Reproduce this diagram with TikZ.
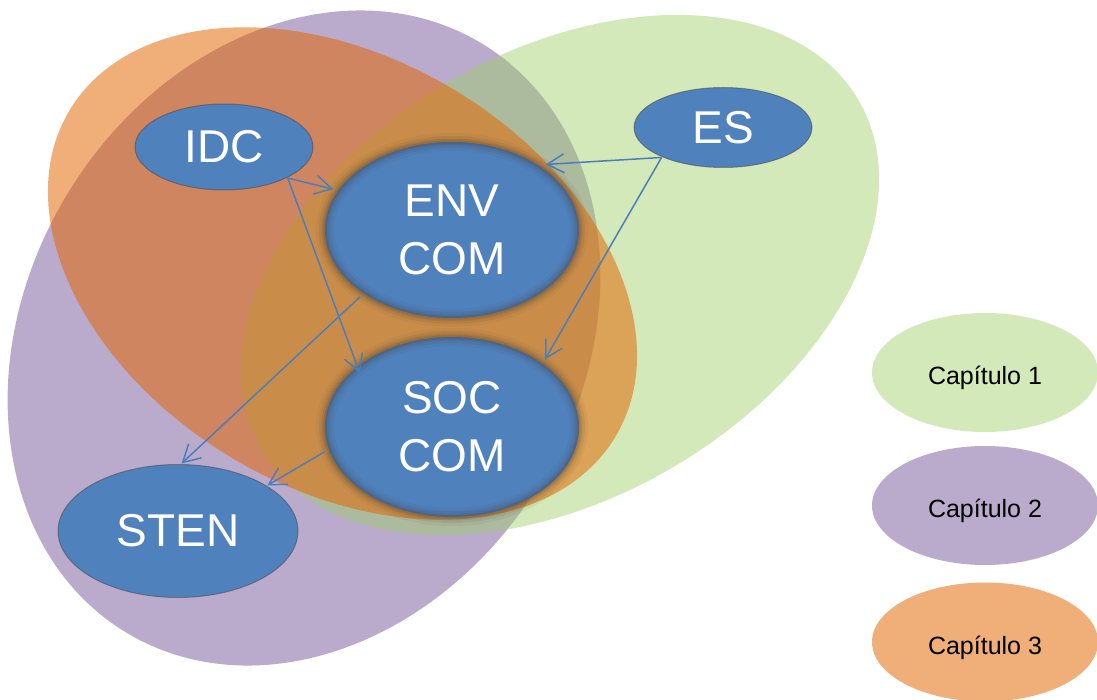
\documentclass[tikz,border=0pt]{standalone}
\usepackage{fontspec}
\setmainfont{Liberation Sans}
\usetikzlibrary{shapes.geometric,arrows.meta}
\definecolor{nodeblue}{RGB}{79,129,189}
\definecolor{arrowblue}{RGB}{74,126,187}
\definecolor{cpurple}{RGB}{128,100,162}
\definecolor{cgreen}{RGB}{155,207,98}
\definecolor{corange}{RGB}{227,102,0}
\definecolor{rimdark}{RGB}{70,58,48}
\begin{document}
\begin{tikzpicture}[x=1pt,y=-1pt,
  chap1/.style={fill=cgreen,fill opacity=0.44},
  chap2/.style={fill=cpurple,fill opacity=0.54},
  chap3/.style={fill=corange,fill opacity=0.53},
  concept/.style={ellipse,fill=nodeblue,draw=rimdark,draw opacity=0.45,line width=1pt,
    text=white,inner sep=0pt,outer sep=1pt,font=\fontsize{46}{58}\selectfont,align=center},
  core/.style={concept,draw=none,outer sep=5pt,
    postaction={draw=rimdark,draw opacity=0.06,line width=18pt},
    postaction={draw=rimdark,draw opacity=0.09,line width=12pt},
    postaction={draw=rimdark,draw opacity=0.13,line width=7pt},
    postaction={draw=rimdark,draw opacity=0.16,line width=3.5pt}},
  legend/.style={ellipse,inner sep=0pt,minimum width=226pt,minimum height=119pt,
    text=black,text opacity=1,font=\fontsize{25}{30}\selectfont,text height=24pt,text depth=0pt},
  link/.style={draw=arrowblue,line width=1.5pt,-{Straight Barb[length=17pt,width=19pt]}}
]
\useasboundingbox (0,0) rectangle (1097,700);
\fill[white] (0,0) rectangle (1097,700);

% chapter regions
\fill[chap2, rotate around={58.9:(304,338)}] (304,338) ellipse [x radius=344, y radius=277];
\fill[chap1, rotate around={30.4:(560,275)}] (560,275) ellipse [x radius=346, y radius=223];
\fill[chap3, rotate around={-30.8:(342.5,273.5)}] (342.5,273.5) ellipse [x radius=318, y radius=215];

% concepts
\node[concept, minimum width=178pt, minimum height=86pt] (IDC) at (224,147) {IDC};
\node[concept, minimum width=178pt, minimum height=80pt] (ES) at (723,127.5) {ES};
\node[concept, minimum width=240pt, minimum height=133pt] (STEN) at (178,531) {STEN};
\node[core, minimum width=254pt, minimum height=176pt] (ENV) at (452,230) {ENV\\COM};
\node[core, minimum width=254pt, minimum height=180pt] (SOC) at (452,427) {SOC\\COM};

% legend
\node[legend, chap1] (L1) at (985,372.5) {Capítulo 1};
\node[legend, chap2] (L2) at (985,505.5) {Capítulo 2};
\node[legend, chap3] (L3) at (985,642) {Capítulo 3};

% connectors
\draw[link] (IDC.-26) -- (ENV.161);
\draw[link, shorten >=-12pt] (IDC.-26) -- (SOC.146);
\draw[link] (ENV.216) -- (STEN.87);
\draw[link] (SOC.191) -- (STEN.27);
\draw[link] (ES.206) -- (ENV.35);
\draw[link] (ES.206) -- (SOC.36);
\end{tikzpicture}
\end{document}
